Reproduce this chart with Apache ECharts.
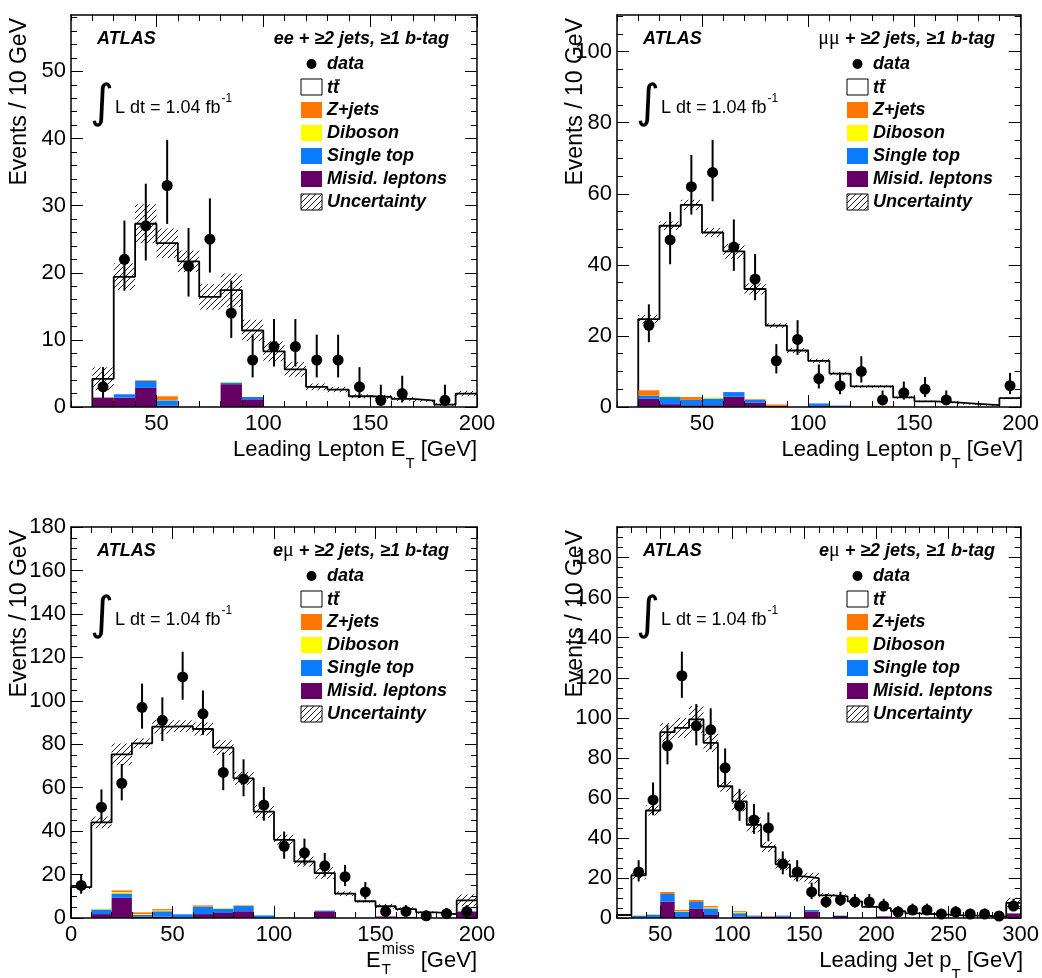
<!DOCTYPE html>
<html><head><meta charset="utf-8">
<script src="https://cdn.jsdelivr.net/npm/echarts@6/dist/echarts.min.js"></script>
<style>html,body{margin:0;padding:0;background:#fff}#c{width:1042px;height:978px}</style>
</head><body><div id="c"></div>
<script>
// ---------------- DATA ----------------
const BIN_WIDTH = 10;
// Panel 1: ee, leading lepton E_T
const EE_BINS = [20,30,40,50,60,70,80,90,100,110,120,130,140,150,160,170,180,190];
const EE_DATA = [3,22,27,33,21,25,14,7,9,9,7,7,3,1,2,0,1,0];
const EE_TOTAL = [4.2,19.4,27.3,24.4,21.7,16.4,17.4,11.4,8.3,5.6,3.0,2.6,1.6,1.5,1.2,0.95,0.35,2.0];
const EE_UNC = [1.7,2.0,2.9,2.2,1.6,1.9,2.5,1.6,1.5,1.1,0.5,0.4,0.3,0.3,0.3,0.2,0.2,0.4];
const EE_MISID = [1.4,1.4,2.85,0.2,0,0,3.4,1.15,0,0,0,0,0,0,0,0,0,0];
const EE_SINGLETOP = [0,0.5,1.05,0.8,0,0,0.25,0.35,0,0,0,0,0,0,0,0,0,0];
const EE_DIBOSON = [0,0,0,0.05,0,0,0.1,0,0,0,0,0,0,0,0,0,0,0];
const EE_ZJETS = [0,0,0.1,0.55,0,0,0,0,0,0,0,0,0,0,0,0,0,0];

// Panel 2: mumu, leading lepton p_T
const MM_BINS = [20,30,40,50,60,70,80,90,100,110,120,130,140,150,160,170,180,190];
const MM_DATA = [23,47,62,66,45,36,13,19,8,6,10,2,4,5,2,0,0,6];
const MM_TOTAL = [24.7,51.0,56.9,49.1,43.8,33.2,22.9,15.9,13.0,9.4,5.8,5.8,2.7,1.6,1.3,0.9,0.5,2.5];
const MM_UNC = [1.2,1.2,1.4,1.3,2.1,1.6,0.7,0.7,0.6,0.5,0.4,0.4,0.3,0.2,0.2,0.2,0.2,0.3];
const MM_MISID = [2.3,0.8,0.5,0.5,2.9,1.2,0.3,0,0.3,0.2,0,0,0,0,0,0,0,0];
const MM_SINGLETOP = [0.9,2.0,1.5,1.9,1.3,0.8,0,0,0.7,0.2,0,0,0,0,0,0,0,0];
const MM_DIBOSON = [0,0.3,0,0.3,0,0,0,0,0,0,0,0,0,0,0,0,0,0];
const MM_ZJETS = [1.5,0,0.8,0,0,0.2,0.4,0,0,0,0,0.3,0,0,0,0,0,0];

// Panel 3: emu, E_T^miss
const EMM_BINS = [0,10,20,30,40,50,60,70,80,90,100,110,120,130,140,150,160,170,180,190];
const EMM_DATA = [15,51,62,97,91,111,94,67,64,52,33,30,24,19,12,3,3,1,2,3];
const EMM_TOTAL = [14.2,44.0,75.3,80.4,88.1,88.3,87.0,78.4,64.3,49.0,36.0,26.0,20.7,11.2,7.7,5.4,4.1,2.6,1.8,8.1];
const EMM_UNC = [0.8,2.7,5,2.3,3.2,2.7,3,3.4,3,3,2.3,2.3,2.7,1.1,0.6,1.1,0.8,0.5,0.5,2.7];
const EMM_MISID = [0,1.8,9.3,0.6,0.6,0,1.8,2.3,3.1,0,0,0,3.1,0,0,0.7,0.5,0,0,2.8];
const EMM_SINGLETOP = [0,2.1,2.0,0.8,2.5,1.7,3.4,2.0,2.4,1.2,0,0,0.3,0,0,0,0,0,0,0.3];
const EMM_DIBOSON = [0,0.2,0.6,0.4,0.4,0,0,0.3,0,0,0,0,0,0,0,0,0,0,0,0];
const EMM_ZJETS = [0,0.1,0.8,0.8,0.6,0,0.6,0,0.3,0,0.2,0,0,0,0,0,0,0,0,0];

// Panel 4: emu, leading jet p_T
const EMJ_BINS = [20,30,40,50,60,70,80,90,100,110,120,130,140,150,160,170,180,190,200,210,220,230,240,250,260,270,280,290];
const EMJ_DATA = [0,23,59,86,121,96,94,75,56,49,45,27,23,13,8,9,8,8,6,3,4,4,2,3,2,2,1,6];
const EMJ_TOTAL = [1.5,21.3,53.7,92.8,95.0,99.2,87.5,65.8,58.3,46.5,35.5,26.8,20.8,19.9,11.3,10.8,8.3,5.6,4.9,3.4,2.3,2.0,1.7,1.3,1.2,1.0,0.7,7.6];
const EMJ_UNC = [0.3,2,2.5,4.6,5,6.7,4.6,2.7,5,3.7,2.5,3,2,2.7,1.2,1,0.7,0.5,0.4,0.4,0.3,0.3,0.3,0.3,0.2,0.2,0.2,2.5];
const EMJ_MISID = [0,0,0,8.2,0.5,4.8,1.5,0,0.7,0.7,0.7,0.7,0,3.3,0,1.0,0,0,0.8,0,0,0,0,0,0,0,0,2.3];
const EMJ_SINGLETOP = [0,1.0,1.7,3.8,2.5,3.2,3.3,0,1.7,0.5,0,0.5,0,0.7,0,0.2,0,0,0,0,0,0,0,0,0,0,0,0];
const EMJ_DIBOSON = [0,0,0.2,0,0.3,0,0.5,0,0.5,0,0,0,0,0,0,0,0,0,0,0,0,0,0,0,0,0,0,0];
const EMJ_ZJETS = [0,0.2,0,1.0,0.7,1.0,0.7,0,0.5,0,0,0,0,0,0,0,0,0,0,0,0,0,0,0,0,0,0,0];

// Tick labels
const X_TICKS_LEPTON = [50,100,150,200];
const X_TICKS_MET = [0,50,100,150,200];
const X_TICKS_JET = [50,100,150,200,250,300];
const Y_TICKS_EE = [0,10,20,30,40,50];
const Y_TICKS_MM = [0,20,40,60,80,100];
const Y_TICKS_EM = [0,20,40,60,80,100,120,140,160,180];

const LEGEND_LABELS = ['data','tt','Z+jets','Diboson','Single top','Misid. leptons','Uncertainty'];
const BKG_COLORS = ['#660066','#0a7cff','#ffff00','#ff7700']; // misid, single top, diboson, Z+jets

// ---------------- HELPERS ----------------
const FAM = '"Liberation Sans", Arial, Helvetica, sans-serif';
const cv = document.createElement('canvas').getContext('2d');
function tw(t, f){ cv.font = f; return cv.measureText(t).width; }
function fnt(size, bold, italic, fam){ return (italic?'italic ':'') + (bold?'bold ':'') + size + 'px ' + (fam||FAM); }
const BI18 = fnt(18,true,true), R18 = fnt(18), R22 = fnt(22), R15 = fnt(15), MU = fnt(20,false,false,'"Liberation Serif", "DejaVu Serif", serif');
function range(a,b,s){ const o=[]; for(let v=a; v<=b+1e-9; v+=s) o.push(+v.toFixed(6)); return o; }
function txt(x,y,t,f,align,extra){ return Object.assign({type:'text', x:x, y:y, silent:true, z:100, style:{text:t, font:f, fill:'#000', align:align||'left', verticalAlign:'middle'}}, extra||{}); }
function hatchLines(x0,y0,x1,y1,s){
  const out=[]; const kmin=Math.ceil((x0+y0)/s), kmax=Math.floor((x1+y1)/s);
  for(let k=kmin;k<=kmax;k++){ const c=k*s; const xa=Math.max(x0,c-y1), xb=Math.min(x1,c-y0); if(xb>xa+0.3) out.push([xa,c-xa,xb,c-xb]); }
  return out;
}
function rowParts(parts, xRight, y){
  const w = parts.reduce((s,p)=>s+tw(p.t,p.f),0); let x = xRight - w; const out=[];
  parts.forEach(p=>{ out.push(txt(x, y+(p.dy||0), p.t, p.f)); x += tw(p.t,p.f); });
  return out;
}

const panels = [
  {L:71, T:15, W:406, H:392, xmin:10, xmax:200, ymax:58.4, xMaj:X_TICKS_LEPTON, xMin:range(10,200,10), yMaj:Y_TICKS_EE, yMin:range(0,58,2),
   bins:EE_BINS, data:EE_DATA, total:EE_TOTAL, unc:EE_UNC, bkg:[EE_MISID,EE_SINGLETOP,EE_DIBOSON,EE_ZJETS],
   channel:[{t:'ee + \u22652 jets, \u22651 b-tag', f:BI18}],
   xtitle:[{t:'Leading Lepton E', f:R22},{t:'T', f:R15, dy:14},{t:' [GeV]', f:R22}], ytx:20},
  {L:617, T:15, W:406, H:392, xmin:10, xmax:200, ymax:110.3, xMaj:X_TICKS_LEPTON, xMin:range(10,200,10), yMaj:Y_TICKS_MM, yMin:range(0,110,5),
   bins:MM_BINS, data:MM_DATA, total:MM_TOTAL, unc:MM_UNC, bkg:[MM_MISID,MM_SINGLETOP,MM_DIBOSON,MM_ZJETS],
   channel:[{t:'\u03bc\u03bc', f:MU},{t:' + \u22652 jets, \u22651 b-tag', f:BI18}],
   xtitle:[{t:'Leading Lepton p', f:R22},{t:'T', f:R15, dy:14},{t:' [GeV]', f:R22}], ytx:576},
  {L:71, T:527, W:406, H:391, xmin:0, xmax:200, ymax:180, xMaj:X_TICKS_MET, xMin:range(0,200,10), yMaj:Y_TICKS_EM, yMin:range(0,180,5),
   bins:EMM_BINS, data:EMM_DATA, total:EMM_TOTAL, unc:EMM_UNC, bkg:[EMM_MISID,EMM_SINGLETOP,EMM_DIBOSON,EMM_ZJETS],
   channel:[{t:'e', f:BI18},{t:'\u03bc', f:MU},{t:' + \u22652 jets, \u22651 b-tag', f:BI18}],
   xtitle:null, ytx:20},
  {L:617, T:527, W:406, H:391, xmin:20, xmax:300, ymax:195.3, xMaj:X_TICKS_JET, xMin:range(20,300,10), yMaj:Y_TICKS_EM, yMin:range(0,195,5),
   bins:EMJ_BINS, data:EMJ_DATA, total:EMJ_TOTAL, unc:EMJ_UNC, bkg:[EMJ_MISID,EMJ_SINGLETOP,EMJ_DIBOSON,EMJ_ZJETS],
   channel:[{t:'e', f:BI18},{t:'\u03bc', f:MU},{t:' + \u22652 jets, \u22651 b-tag', f:BI18}],
   xtitle:[{t:'Leading Jet p', f:R22},{t:'T', f:R15, dy:14},{t:' [GeV]', f:R22}], ytx:576}
];

const grids=[], xAxes=[], yAxes=[], series=[], G=[];
panels.forEach((P,i)=>{
  grids.push({left:P.L, top:P.T, width:P.W, height:P.H, containLabel:false, show:false});
  const mkAxis = (isX, pos, ticks, len, line, labels) => ({
    type:'value', gridIndex:i, position:pos, min: isX?P.xmin:0, max: isX?P.xmax:P.ymax, z:10,
    splitLine:{show:false}, minorTick:{show:false},
    axisLine:{show:line, onZero:false, lineStyle:{color:'#000', width:1.5}},
    axisTick:{show:true, inside:true, length:len, customValues:ticks, lineStyle:{color:'#000', width:1}},
    axisLabel: labels ? {show:true, customValues:ticks, color:'#000', fontSize:22, fontFamily:FAM, margin: isX?6:5} : {show:false}
  });
  xAxes.push(mkAxis(true,'bottom',P.xMaj,12,true,true), mkAxis(true,'bottom',P.xMin,6,false,false),
             mkAxis(true,'top',P.xMaj,12,true,false), mkAxis(true,'top',P.xMin,6,false,false));
  yAxes.push(mkAxis(false,'left',P.yMaj,12,true,true), mkAxis(false,'left',P.yMin,6,false,false),
             mkAxis(false,'right',P.yMaj,12,true,false), mkAxis(false,'right',P.yMin,6,false,false));
  const ax = {xAxisIndex:4*i, yAxisIndex:4*i};

  // MC total outline (step)
  const pts=[[P.bins[0],0]];
  P.bins.forEach((lo,k)=>{ pts.push([lo,P.total[k]]); pts.push([lo+BIN_WIDTH,P.total[k]]); });
  series.push(Object.assign({type:'line', data:pts, symbol:'none', silent:true, z:2, clip:true,
    lineStyle:{color:'#000', width:1.8}}, ax));

  // stacked backgrounds
  const base = P.bins.map(()=>0);
  P.bkg.forEach((vals,pi)=>{
    const items=[];
    P.bins.forEach((lo,k)=>{ if(vals[k]>0){ items.push([lo, lo+BIN_WIDTH, base[k], base[k]+vals[k]]); base[k]+=vals[k]; } });
    const col = BKG_COLORS[pi];
    series.push(Object.assign({type:'custom', data:items, silent:true, z:3, clip:true,
      renderItem:(params,api)=>{ const a=api.coord([api.value(0),api.value(3)]), b=api.coord([api.value(1),api.value(2)]);
        return {type:'rect', shape:{x:a[0], y:a[1], width:b[0]-a[0], height:b[1]-a[1]}, style:{fill:col}}; }}, ax));
  });

  // uncertainty hatch
  series.push(Object.assign({type:'custom', silent:true, z:4, clip:true,
    data:P.bins.map((lo,k)=>[lo, lo+BIN_WIDTH, Math.max(0,P.total[k]-P.unc[k]), P.total[k]+P.unc[k]]),
    renderItem:(params,api)=>{ const a=api.coord([api.value(0),api.value(3)]), b=api.coord([api.value(1),api.value(2)]);
      const ls=hatchLines(a[0],a[1],b[0],b[1],6);
      return {type:'group', children: ls.map(l=>({type:'line', shape:{x1:l[0],y1:l[1],x2:l[2],y2:l[3]}, style:{stroke:'#000', lineWidth:0.9}}))}; }}, ax));

  // data error bars
  const dpts = P.bins.map((lo,k)=>[lo+BIN_WIDTH/2, P.data[k]]).filter(d=>d[1]>0);
  series.push(Object.assign({type:'custom', silent:true, z:5, clip:true,
    data:dpts.map(d=>[d[0], d[1]-Math.sqrt(d[1]-0.25), d[1]+Math.sqrt(d[1]+0.75)+1]),
    renderItem:(params,api)=>{ const a=api.coord([api.value(0),api.value(1)]), b=api.coord([api.value(0),api.value(2)]);
      return {type:'line', shape:{x1:a[0],y1:a[1],x2:b[0],y2:b[1]}, style:{stroke:'#000', lineWidth:2}}; }}, ax));
  series.push(Object.assign({type:'scatter', data:dpts, symbol:'circle', symbolSize:11, silent:true, z:6,
    itemStyle:{color:'#000', opacity:1}}, ax));

  // ---- texts ----
  const L=P.L, T=P.T, R=P.L+P.W, B=P.T+P.H;
  G.push(txt(L+26, T+24, 'ATLAS', BI18));
  rowParts(P.channel, R-28, T+24).forEach(e=>G.push(e));
  G.push(txt(L+31, T+90, '\u222b', fnt(46,false,false,'"DejaVu Sans", sans-serif'), 'center'));
  const lumi='L dt = 1.04 fb';
  G.push(txt(L+44, T+93, lumi, R18));
  G.push(txt(L+44+tw(lumi,R18)+1, T+84, '-1', fnt(12)));
  // legend
  const rows=[49,72,95,118,141,164,187];
  const bx=L+230, bw=21, bh=16, tx=L+256;
  rows.forEach((ry,r)=>{
    const y=T+ry;
    if(r===0){ G.push({type:'circle', silent:true, z:100, shape:{cx:bx+10.5, cy:y, r:5}, style:{fill:'#000'}}); }
    else if(r===1){ G.push({type:'rect', silent:true, z:100, shape:{x:bx, y:y-bh/2, width:bw, height:bh}, style:{fill:'#fff', stroke:'#000', lineWidth:1}}); }
    else if(r<6){ G.push({type:'rect', silent:true, z:100, shape:{x:bx, y:y-bh/2, width:bw, height:bh}, style:{fill:BKG_COLORS[5-r], stroke:null}}); }
    else {
      G.push({type:'rect', silent:true, z:100, shape:{x:bx, y:y-bh/2, width:bw, height:bh}, style:{fill:'#fff', stroke:'#000', lineWidth:1}});
      hatchLines(bx, y-bh/2, bx+bw, y+bh/2, 6).forEach(l=>G.push({type:'line', silent:true, z:101, shape:{x1:l[0],y1:l[1],x2:l[2],y2:l[3]}, style:{stroke:'#000', lineWidth:0.9}}));
    }
    if(r===1){
      G.push(txt(tx, y+1, 'tt', BI18));
      const w1=tw('t',BI18), w2=tw('tt',BI18);
      G.push({type:'line', silent:true, z:101, shape:{x1:tx+w1+2, y1:y-7, x2:tx+w2+1, y2:y-7}, style:{stroke:'#000', lineWidth:1.3}});
    } else {
      G.push(txt(tx, y, LEGEND_LABELS[r], BI18));
    }
  });
  // axis titles
  G.push(txt(P.ytx, T+3, 'Events / 10 GeV', fnt(23), 'right', {rotation:Math.PI/2}));
  const ty = B+43;
  if(P.xtitle){ rowParts(P.xtitle, R, ty).forEach(e=>G.push(e)); }
  else {
    const wE=tw('E',R22), wS=Math.max(tw('T',R15), tw('miss',fnt(16))), wG=tw(' [GeV]',R22);
    let x = R - (wE+1+wS+wG);
    G.push(txt(x, ty, 'E', R22)); x+=wE+1;
    G.push(txt(x, ty+9, 'T', R15)); G.push(txt(x, ty-11, 'miss', fnt(16))); x+=wS;
    G.push(txt(x, ty, ' [GeV]', R22));
  }
});

const chart = echarts.init(document.getElementById('c'));
chart.setOption({
  animation:false, backgroundColor:'#fff',
  grid:grids, xAxis:xAxes, yAxis:yAxes, series:series,
  graphic:{elements:G}
});
</script></body></html>
